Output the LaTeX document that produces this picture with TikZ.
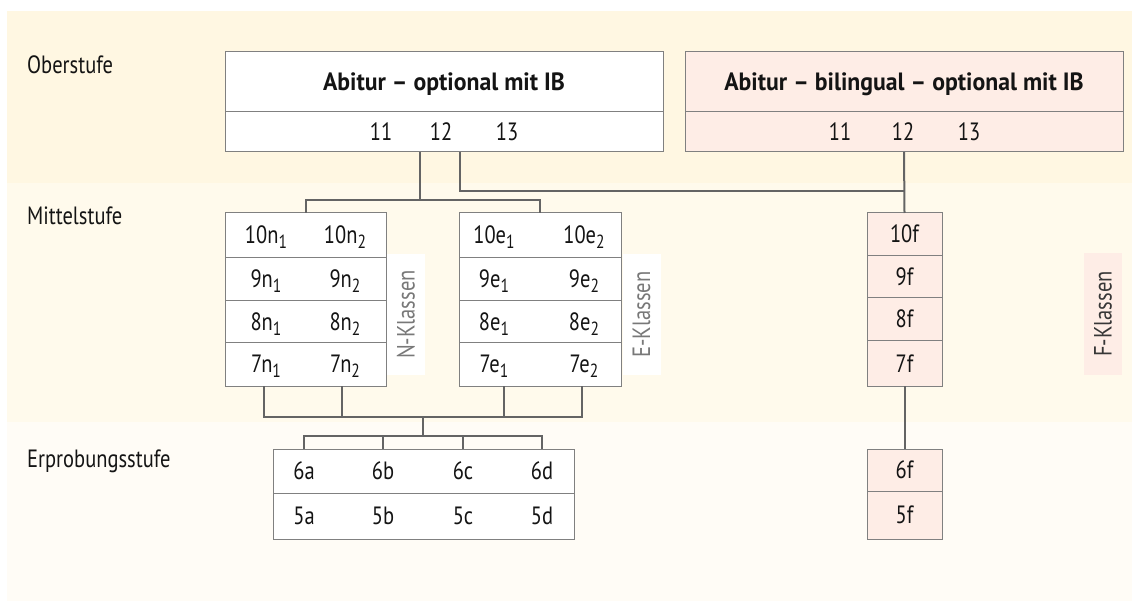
\documentclass[tikz,border=0pt]{standalone}
\usepackage{fontspec}
\setmainfont{PT Sans}[FakeStretch=0.82, BoldFeatures={FakeStretch=0.95}]
\usetikzlibrary{positioning}

\definecolor{bandtop}{RGB}{255,247,226}
\definecolor{bandmid}{RGB}{255,250,236}
\definecolor{bandlow}{RGB}{255,252,246}
\definecolor{pinkfill}{RGB}{254,237,230}
\definecolor{boxline}{RGB}{128,128,128}
\definecolor{linkline}{RGB}{100,100,100}
\definecolor{inktext}{RGB}{20,20,20}
\definecolor{greytext}{RGB}{120,120,120}

\newcommand{\lowidx}[1]{\raisebox{-5pt}{\fontsize{19}{19}\selectfont #1}}

\tikzset{
  stufe/.style={anchor=base west, inner sep=0pt, text=inktext, font=\fontsize{25}{29}\selectfont},
  klasse/.style={inner sep=0pt, text height=17pt, text depth=0pt, text=inktext, font=\fontsize{25}{29}\selectfont},
  rowbox/.style={draw=boxline, line width=1pt, inner sep=0pt, outer sep=0pt, anchor=north west},
  link/.style={draw=linkline, line width=2pt},
  klassenlabel/.style={rotate=90, inner sep=0pt, outer sep=0pt, minimum width=121pt, minimum height=38pt, text height=17pt, text depth=0pt, font=\fontsize{25}{29}\selectfont}
}

\begin{document}
\begin{tikzpicture}[x=1pt,y=1pt,yscale=-1,xscale=1]
\useasboundingbox (0,0) rectangle (1132,601);

%Background bands
\fill[white] (0,0) rectangle (1132,601);
\fill[bandtop] (7,11) rectangle (1132,183);
\fill[bandmid] (7,183) rectangle (1132,422);
\fill[bandlow] (7,422) rectangle (1132,601);

% Stufen
\node[stufe] (ober) at (27,74) {Oberstufe};
\node[stufe] (mittel) at (27,225) {Mittelstufe};
\node[stufe] (erprob) at (27,467) {Erprobungsstufe};

%Oberstufe boxes
\node[rowbox, fill=white, minimum width=438pt, minimum height=60pt] (abiLtitle) at (225,52) {};
\node[rowbox, fill=white, minimum width=438pt, minimum height=40pt, below=0pt of abiLtitle] (abiLyears) {};
\node[rowbox, fill=pinkfill, minimum width=438pt, minimum height=60pt] (abiRtitle) at (685,52) {};
\node[rowbox, fill=pinkfill, minimum width=438pt, minimum height=40pt, below=0pt of abiRtitle] (abiRyears) {};

\node[klasse, font=\fontsize{25}{29}\selectfont\bfseries] (tabiL) at (abiLtitle.center) {Abitur – optional mit IB};
\node[klasse, font=\fontsize{25}{29}\selectfont\bfseries] (tabiR) at (abiRtitle.center) {Abitur – bilingual – optional mit IB};
\node[klasse] (yl11) at (381,132) {11};
\node[klasse] (yl12) at (441,132) {12};
\node[klasse] (yl13) at (507,132) {13};
\node[klasse] (yr11) at (840,132) {11};
\node[klasse] (yr12) at (903,132) {12};
\node[klasse] (yr13) at (969,132) {13};

%Mittelstufe columns
\node[rowbox, fill=white, minimum width=161pt, minimum height=45pt] (n10) at (225,213) {};
\node[rowbox, fill=white, minimum width=161pt, minimum height=43pt, below=0pt of n10] (n9) {};
\node[rowbox, fill=white, minimum width=161pt, minimum height=42pt, below=0pt of n9] (n8) {};
\node[rowbox, fill=white, minimum width=161pt, minimum height=43pt, below=0pt of n8] (n7) {};
\node[rowbox, fill=white, minimum width=162pt, minimum height=45pt] (e10) at (459,213) {};
\node[rowbox, fill=white, minimum width=162pt, minimum height=43pt, below=0pt of e10] (e9) {};
\node[rowbox, fill=white, minimum width=162pt, minimum height=42pt, below=0pt of e9] (e8) {};
\node[rowbox, fill=white, minimum width=162pt, minimum height=43pt, below=0pt of e8] (e7) {};
\node[rowbox, fill=pinkfill, minimum width=75pt, minimum height=43pt] (f10) at (867,213) {};
\node[rowbox, fill=pinkfill, minimum width=75pt, minimum height=42pt, below=0pt of f10] (f9) {};
\node[rowbox, fill=pinkfill, minimum width=75pt, minimum height=43pt, below=0pt of f9] (f8) {};
\node[rowbox, fill=pinkfill, minimum width=75pt, minimum height=45pt, below=0pt of f8] (f7) {};

\foreach \r in {10,9,8,7} {
  \node[klasse] (tn\r a) at ([xshift=41pt]n\r.west) {\r n\lowidx{1}};
  \node[klasse] (tn\r b) at ([xshift=-41pt]n\r.east) {\r n\lowidx{2}};
  \node[klasse] (te\r a) at ([xshift=35pt]e\r.west) {\r e\lowidx{1}};
  \node[klasse] (te\r b) at ([xshift=-37pt]e\r.east) {\r e\lowidx{2}};
  \node[klasse] (tf\r) at (f\r.center) {\r f};
}

\node[klassenlabel, fill=white, text=greytext] (nklassen) at (406,314.5) {N-Klassen};
\node[klassenlabel, fill=white, text=greytext] (eklassen) at (641.5,314.5) {E-Klassen};
\node[klassenlabel, fill=pinkfill, text=inktext!85] (fklassen) at (1103,314) {F-Klassen};

%Erprobungsstufe boxes
\node[rowbox, fill=white, minimum width=301pt, minimum height=44pt] (low6) at (273,449) {};
\node[rowbox, fill=white, minimum width=301pt, minimum height=46pt, below=0pt of low6] (low5) {};
\node[rowbox, fill=pinkfill, minimum width=75pt, minimum height=42pt] (f6) at (867,449) {};
\node[rowbox, fill=pinkfill, minimum width=75pt, minimum height=48pt, below=0pt of f6] (f5) {};

\foreach \c/\x in {a/304,b/383,c/463,d/542} {
  \node[klasse] (k6\c) at (\x,471) {6\c};
  \node[klasse] (k5\c) at (\x,516) {5\c};
}
\node[klasse] (tf6) at (f6.center) {6f};
\node[klasse] (tf5) at (f5.center) {5f};

%Connectors
\coordinate (nsplit) at (420,200);
\coordinate (ebend) at (460,191);
\coordinate (mjoin) at (423,417);
\coordinate (lsplit) at (423,436);

\draw[link] (abiLyears.south -| nsplit) -- (nsplit);
\draw[link] (n10.north) |- (nsplit) -| (e10.north);
\draw[link] (abiLyears.south -| ebend) |- (f10.north |- ebend);
\draw[link] (abiRyears.south) -- (f10.north);

\draw[link] ([xshift=39pt]n7.south west) |- (mjoin) -| ([xshift=-39pt]e7.south east);
\draw[link] ([xshift=-44pt]n7.south east) -- ([xshift=-44pt]n7.south east |- mjoin);
\draw[link] ([xshift=45pt]e7.south west) -- ([xshift=45pt]e7.south west |- mjoin);
\draw[link] (mjoin) -- (lsplit);
\draw[link] (k6a |- low6.north) |- (lsplit) -| (k6d |- low6.north);
\draw[link] (k6b |- low6.north) -- (k6b |- lsplit);
\draw[link] (k6c |- low6.north) -- (k6c |- lsplit);

\draw[link] (f7.south) -- (f6.north);

\end{tikzpicture}
\end{document}
